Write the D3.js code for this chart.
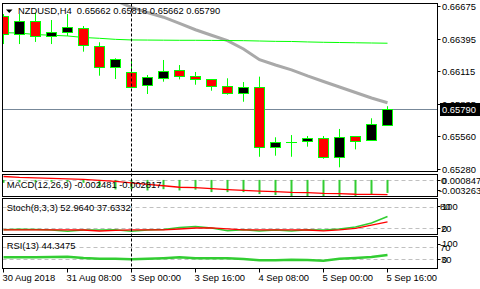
<!DOCTYPE html>
<html><head><meta charset="utf-8">
<script src="https://cdn.jsdelivr.net/npm/d3@7"></script>
<style>
body{margin:0;background:#fff}
svg{display:block}
text{font-family:"Liberation Sans",Arial,sans-serif;font-size:9.4px;fill:#000}
</style>
</head><body><svg id="c" width="480" height="289"></svg>
<script>
// ---- data ----
const barTimes = ["30 Aug 16:00","30 Aug 20:00","31 Aug 00:00","31 Aug 04:00","31 Aug 08:00","31 Aug 12:00","31 Aug 16:00","31 Aug 20:00",
  "3 Sep 00:00","3 Sep 04:00","3 Sep 08:00","3 Sep 12:00","3 Sep 16:00","3 Sep 20:00","4 Sep 00:00","4 Sep 04:00",
  "4 Sep 08:00","4 Sep 12:00","4 Sep 16:00","4 Sep 20:00","5 Sep 00:00","5 Sep 04:00","5 Sep 08:00","5 Sep 12:00","5 Sep 16:00"];
const open  = [0.66587,0.66434,0.66547,0.66417,0.66453,0.66482,0.66334,0.66150,0.66110,0.65996,0.66056,0.66124,0.66073,0.66047,0.65988,0.65928,0.65979,0.65473,0.65512,0.65519,0.65544,0.65382,0.65561,0.65527,0.65662];
const high  = [0.66604,0.66604,0.66615,0.66553,0.66604,0.66502,0.66363,0.66227,0.66218,0.66084,0.66212,0.66169,0.66110,0.66050,0.66056,0.66024,0.66070,0.65553,0.65572,0.65564,0.65564,0.65624,0.65564,0.65715,0.65818];
const low   = [0.66348,0.66348,0.66366,0.66348,0.66417,0.66283,0.66078,0.66050,0.65982,0.65922,0.66027,0.66047,0.66001,0.65950,0.65916,0.65856,0.65387,0.65396,0.65387,0.65473,0.65370,0.65297,0.65450,0.65527,0.65662];
const close = [0.66434,0.66547,0.66417,0.66453,0.66491,0.66340,0.66150,0.66218,0.65984,0.66065,0.66121,0.66076,0.66047,0.65988,0.65928,0.65979,0.65473,0.65510,0.65514,0.65544,0.65382,0.65558,0.65521,0.65664,0.65790];
const maGreen = [0.66445,0.66442,0.66429,0.66423,0.66417,0.66404,0.66397,0.66388,0.66383,0.66382,0.66381,0.66380,0.66380,0.66379,0.66378,0.66377,0.66374,0.66371,0.66370,0.66366,0.66363,0.66361,0.66359,0.66357,0.66355];
const maGray  = [null,null,null,null,null,null,null,0.66719,0.66660,0.66617,0.66577,0.66525,0.66470,0.66423,0.66377,0.66306,0.66215,0.66169,0.66128,0.66076,0.66029,0.65982,0.65935,0.65888,0.65848];
const macdMain   = [-0.000554,-0.000461,-0.000461,-0.000367,-0.000367,-0.000554,-0.001395,-0.001824,-0.001768,-0.002011,-0.001768,-0.002011,-0.001862,-0.002329,-0.002329,-0.002329,-0.002702,-0.002889,-0.003076,-0.003076,-0.003263,-0.003076,-0.003076,-0.002702,-0.002481];
const macdSignal = [0.000660,0.000473,0.000380,0.000287,0.000193,0.000100,-0.000087,-0.000274,-0.000554,-0.000834,-0.001115,-0.001395,-0.001488,-0.001675,-0.001862,-0.002011,-0.002142,-0.002235,-0.002385,-0.002422,-0.002571,-0.002609,-0.002740,-0.002758,-0.002817];
const stochMain   = [15.8,17.5,16.7,15.3,11.9,15.3,15.3,15.8,11.9,15.3,16.7,22.2,25.0,20.8,13.1,15.8,12.5,15.3,12.5,15.8,15.3,18.1,23.6,35.0,52.964];
const stochSignal = [15.8,15.8,15.8,15.8,15.8,15.3,12.5,14.0,15.8,15.8,15.8,18.0,20.8,21.4,18.6,15.8,15.8,15.8,15.8,15.3,13.1,15.8,20.0,28.6,37.633];
const rsi = [36.7,36.7,36.7,37.7,38.7,34.3,31.7,31.7,30.3,31.7,33.7,36.7,33.7,33.3,33.3,31.0,26.7,26.7,28.7,27.7,25.3,31.7,34.3,37.7,44.3475];
const priceTicks = [0.66675,0.66395,0.66115,0.65835,0.65560,0.65280];
const timeTickIdx = [0,4,8,12,16,20,24];
const timeTickLabels = ["30 Aug 2018","31 Aug 08:00","3 Sep 00:00","3 Sep 16:00","4 Sep 08:00","5 Sep 00:00","5 Sep 16:00"];
const separatorIdx = [8];
const header = "NZDUSD,H4  0.65662 0.65818 0.65662 0.65790";

// ---- layout ----
const L = 2.5, R = 437.5;
const panels = {
  main:  {top:3.5,   bottom:171.5},
  macd:  {top:174.5, bottom:196.5},
  stoch: {top:198.5, bottom:234.5},
  rsi:   {top:236.5, bottom:268.5}
};
const svg = d3.select("#c");
const x = d3.scaleLinear().domain([0,24]).range([3,387]);
const yMain = d3.scaleLinear().domain([0.65280,0.66675]).range([169.3,5.7]);
const yMacd = d3.scaleLinear().domain([-0.003263,0.000847]).range([197,175.5]);
const yStoch = d3.scaleLinear().domain([0,100]).range([235.5,199.5]);
const yRsi = d3.scaleLinear().domain([0,100]).range([268.3,238.3]);
const GREEN = "#00ff00", LG = "#32cd32";

const defs = svg.append("defs");
Object.entries(panels).forEach(([k,p])=>{
  defs.append("clipPath").attr("id","clip-"+k).append("rect")
    .attr("x",L).attr("y",p.top).attr("width",R-L).attr("height",p.bottom-p.top);
});
const g = {};
Object.keys(panels).forEach(k=>{ g[k] = svg.append("g").attr("clip-path",`url(#clip-${k})`); });

// levels
function level(grp, y){
  grp.append("line").attr("x1",L).attr("x2",R).attr("y1",Math.round(y)+0.5).attr("y2",Math.round(y)+0.5)
    .attr("stroke","#c0c0c0").attr("stroke-dasharray","4,3");
}
level(g.macd, yMacd(0));
level(g.stoch, yStoch(80)); level(g.stoch, yStoch(20));
level(g.rsi, yRsi(70)); level(g.rsi, yRsi(30));

// period separator
separatorIdx.forEach(i=>{
  svg.append("line").attr("x1",x(i)+0.5).attr("x2",x(i)+0.5).attr("y1",panels.main.top).attr("y2",panels.rsi.bottom)
    .attr("stroke","#000").attr("stroke-dasharray","3,2");
});

// bid line
g.main.append("line").attr("x1",L).attr("x2",R).attr("y1",Math.round(yMain(close[24]))+0.5).attr("y2",Math.round(yMain(close[24]))+0.5)
  .attr("stroke","#778899");

// moving averages
const lineMain = d3.line().defined(d=>d.v!=null).x(d=>x(d.i)+0.5).y(d=>yMain(d.v));
g.main.append("path").datum(maGray.map((v,i)=>({i,v}))).attr("d",lineMain)
  .attr("fill","none").attr("stroke","#a9a9a9").attr("stroke-width",3);
g.main.append("path").datum(maGreen.map((v,i)=>({i,v}))).attr("d",lineMain)
  .attr("fill","none").attr("stroke",GREEN).attr("stroke-width",1);

// candles
const idx = d3.range(open.length);
g.main.selectAll("line.wick").data(idx).join("line").attr("class","wick")
  .attr("x1",i=>x(i)+0.5).attr("x2",i=>x(i)+0.5)
  .attr("y1",i=>yMain(high[i])).attr("y2",i=>yMain(low[i]))
  .attr("stroke",GREEN);
g.main.selectAll("rect.body").data(idx).join("rect").attr("class","body")
  .attr("x",i=>x(i)-4.5).attr("width",10)
  .attr("y",i=>Math.round(yMain(Math.max(open[i],close[i])))+0.5)
  .attr("height",i=>Math.max(0.01,Math.round(yMain(Math.min(open[i],close[i])))-Math.round(yMain(Math.max(open[i],close[i])))))
  .attr("fill",i=>close[i]>=open[i]?"#000":"#ff0000")
  .attr("stroke",GREEN);

// MACD
g.macd.selectAll("rect.h").data(idx).join("rect").attr("class","h")
  .attr("x",i=>x(i)-0.5).attr("width",2)
  .attr("y",yMacd(0)).attr("height",i=>yMacd(macdMain[i])-yMacd(0))
  .attr("fill",LG);
g.macd.append("path").datum(idx).attr("d",d3.line().x(i=>x(i)+0.5).y(i=>yMacd(macdSignal[i])))
  .attr("fill","none").attr("stroke","#ff0000").attr("stroke-width",1.3);

// Stoch
g.stoch.append("path").datum(idx).attr("d",d3.line().x(i=>x(i)+0.5).y(i=>yStoch(stochMain[i])))
  .attr("fill","none").attr("stroke",LG).attr("stroke-width",1.6);
g.stoch.append("path").datum(idx).attr("d",d3.line().x(i=>x(i)+0.5).y(i=>yStoch(stochSignal[i])))
  .attr("fill","none").attr("stroke","#ff0000").attr("stroke-width",1.3);

// RSI
g.rsi.append("path").datum(idx).attr("d",d3.line().x(i=>x(i)+0.5).y(i=>yRsi(rsi[i])))
  .attr("fill","none").attr("stroke",LG).attr("stroke-width",2.6);

// panel borders
Object.values(panels).forEach(p=>{
  svg.append("rect").attr("x",L).attr("y",p.top).attr("width",R-L).attr("height",p.bottom-p.top)
    .attr("fill","none").attr("stroke","#000");
});

// right price axis
const axR = svg.append("g");
priceTicks.forEach(t=>{
  const yy = Math.round(yMain(t))+0.5;
  axR.append("line").attr("x1",R).attr("x2",R+3).attr("y1",yy).attr("y2",yy).attr("stroke","#000");
  axR.append("text").attr("x",442).attr("y",yy+3.4).text(d3.format(".5f")(t));
});
// bid label
const by = Math.round(yMain(close[24]));
svg.append("rect").attr("x",440).attr("y",by-6).attr("width",40).attr("height",13).attr("fill","#000");
svg.append("text").attr("x",442).attr("y",by+3.9).style("fill","#fff").text(d3.format(".5f")(close[24]));

// sub-panel scale labels
function sideLabel(txt, xx, yy){ svg.append("text").attr("x",xx).attr("y",yy).text(txt); }
function sideTick(yy){ svg.append("line").attr("x1",R).attr("x2",R+3).attr("y1",yy).attr("y2",yy).attr("stroke","#000"); }
sideTick(180.5); sideTick(190.5);
sideLabel("0",441,184.2); sideLabel("0.000847",442,184.2); sideLabel("-0.003263",439,194.2);
sideTick(206.5); sideTick(228.5);
sideLabel("80",440,210.2); sideLabel("100",442,210.2);
sideLabel("20",441,231.8); sideLabel("0",442,231.8);
sideTick(244.5); sideTick(259.5);
sideLabel("100",442,247); sideLabel("70",440,250.5);
sideLabel("30",441,262.8); sideLabel("0",442,262.8);

// time axis
timeTickIdx.forEach((i,k)=>{
  svg.append("line").attr("x1",x(i)+0.5).attr("x2",x(i)+0.5).attr("y1",panels.rsi.bottom).attr("y2",panels.rsi.bottom+4).attr("stroke","#000");
  svg.append("text").attr("x",x(i)-0.5).attr("y",281).text(timeTickLabels[k]);
});

// titles
svg.append("path").attr("d","M6,9.5 L12.5,9.5 L9.25,13 Z").attr("fill","#000");
svg.append("text").attr("x",18).attr("y",13.6).text(header).attr("xml:space","preserve").style("white-space","pre");
svg.append("text").attr("x",6.7).attr("y",187.6).text("MACD(12,26,9) -0.002481 -0.002817");
svg.append("text").attr("x",6.7).attr("y",211.4).text("Stoch(8,3,3) 52.9640 37.6332");
svg.append("text").attr("x",6.7).attr("y",249.4).text("RSI(13) 44.3475");
</script>
</body></html>
